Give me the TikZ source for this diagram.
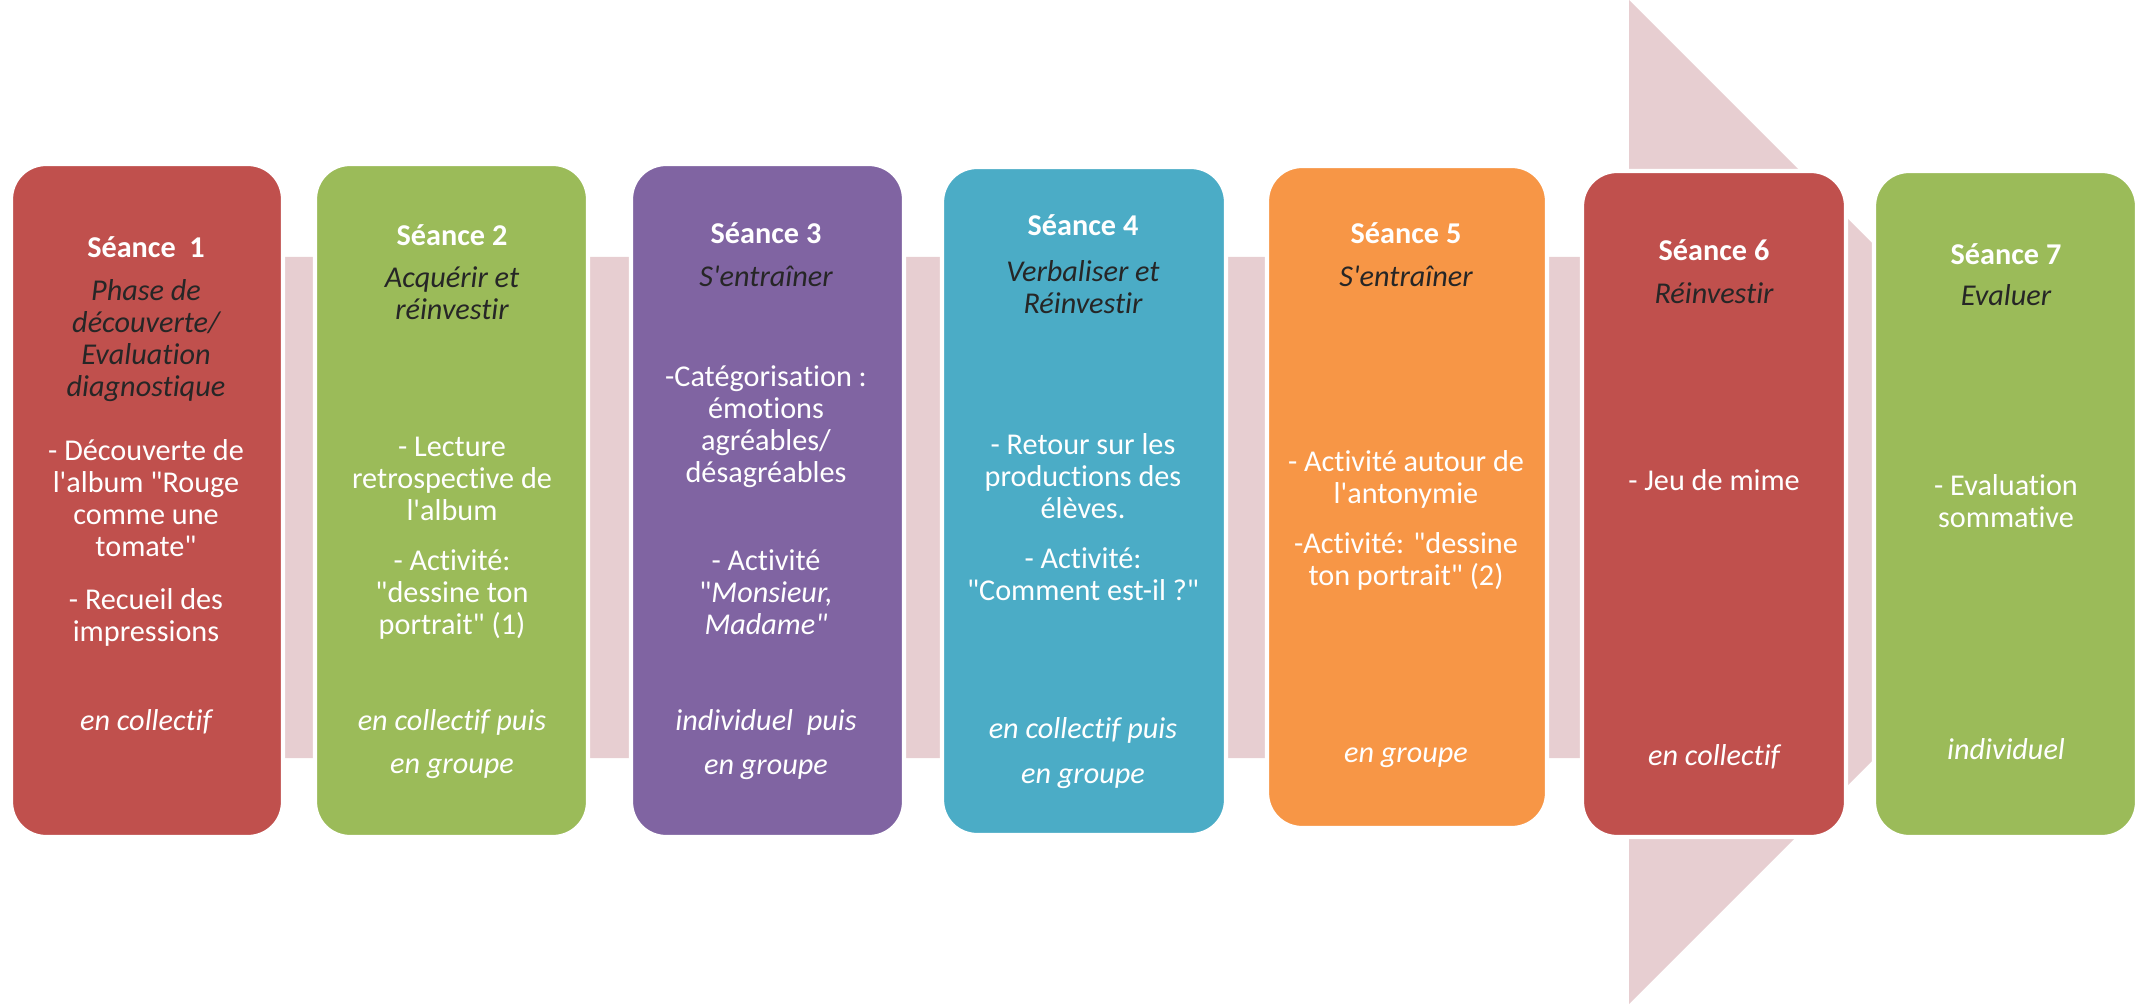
\documentclass[tikz,border=0pt]{standalone}
\usepackage{fontspec}
\setmainfont{Carlito}[Ligatures={TeXOff,NoCommon}]
\definecolor{sred}{RGB}{192,80,77}
\definecolor{sgreen}{RGB}{155,187,89}
\definecolor{spurple}{RGB}{128,100,162}
\definecolor{sblue}{RGB}{75,172,198}
\definecolor{sorange}{RGB}{247,150,70}
\definecolor{spink}{RGB}{231,206,209}
\newcommand{\apos}{\textquotesingle}

\begin{document}
\begin{tikzpicture}[
  seance/.style={draw=white,line width=1.2pt,rounded corners=0.35cm,minimum width=2.72cm,minimum height=6.73cm},
  titre/.style={font=\fontsize{8.6}{9.1}\selectfont\bfseries,text=white,inner sep=0pt},
  phase/.style={font=\fontsize{8.6}{9.1}\selectfont\itshape,text=black!85,align=center,inner sep=0pt},
  corps/.style={font=\fontsize{8.6}{9.1}\selectfont,text=white,align=center,inner sep=0pt},
  mode/.style={font=\fontsize{8.6}{9.1}\selectfont\itshape,text=white,align=center,inner sep=0pt}]
  \useasboundingbox (0,0) rectangle (21.39,10.04);
  % Background arrow
  \fill[spink] (0.3,7.47) -- (16.29,7.47) -- (16.29,10.04) -- (21.31,5.02) -- (16.29,0) -- (16.29,2.46) -- (0.3,2.46) -- cycle;
  % Session boxes
  \node[seance,fill=sred] (s1) at (1.47,5.035) {};
  \node[seance,fill=sgreen,minimum width=2.73cm] (s2) at (4.515,5.035) {};
  \node[seance,fill=spurple,minimum width=2.73cm] (s3) at (7.675,5.035) {};
  \node[seance,fill=sblue,minimum width=2.84cm,minimum height=6.68cm] (s4) at (10.84,5.03) {};
  \node[seance,fill=sorange,minimum width=2.80cm,minimum height=6.62cm] (s5) at (14.07,5.07) {};
  \node[seance,fill=sred,minimum width=2.64cm,minimum height=6.66cm] (s6) at (17.14,5.00) {};
  \node[seance,fill=sgreen,minimum width=2.63cm,minimum height=6.66cm] (s7) at (20.055,5.00) {};
  % Titles
  \node[titre] (t1) at (1.46,7.57) {Séance\ \ 1};
  \node[titre] (t2) at (4.52,7.69) {Séance 2};
  \node[titre] (t3) at (7.66,7.71) {Séance 3};
  \node[titre] (t4) at (10.83,7.79) {Séance 4};
  \node[titre] (t5) at (14.06,7.71) {Séance 5};
  \node[titre] (t6) at (17.14,7.54) {Séance 6};
  \node[titre] (t7) at (20.06,7.50) {Séance 7};
  % Phases
  \node[phase] (p1) at (1.46,6.635) {Phase de\\découverte/\\Evaluation\\diagnostique};
  \node[phase] (p2) at (4.52,7.105) {Acquérir et\\réinvestir};
  \node[phase] (p3) at (7.66,7.28) {S\apos entraîner};
  \node[phase] (p4) at (10.83,7.17) {Verbaliser et\\Réinvestir};
  \node[phase] (p5) at (14.06,7.28) {S\apos entraîner};
  \node[phase] (p6) at (17.14,7.11) {Réinvestir};
  \node[phase] (p7) at (20.06,7.09) {Evaluer};
  % Activities
  \node[corps] (b1) at (1.46,4.61) {- Découverte de\\l\apos album "Rouge\\comme une\\tomate"\\[6pt]- Recueil des\\impressions};
  \node[corps] (b2) at (4.52,4.66) {- Lecture\\retrospective de\\l\apos album\\[5pt]- Activité:\\"dessine ton\\portrait" (1)};
  \node[corps] (b3) at (7.66,5.04) {-Catégorisation :\\émotions\\agréables/\\désagréables\\[16pt]- Activité\\"\textit{Monsieur,}\\\textit{Madame"}};
  \node[corps] (b4) at (10.83,4.87) {- Retour sur les\\productions des\\élèves.\\[5pt]- Activité:\\"Comment est-il ?"};
  \node[corps] (b5) at (14.06,4.835) {- Activité autour de\\l\apos antonymie\\[5pt]-Activité: "dessine\\ton portrait" (2)};
  \node[corps] (b6) at (17.14,5.24) {- Jeu de mime};
  \node[corps] (b7) at (20.06,5.03) {- Evaluation\\sommative};
  % Working mode
  \node[mode] (m1) at (1.46,2.82) {en collectif};
  \node[mode] (m2) at (4.52,2.60) {en collectif puis\\[3pt]en groupe};
  \node[mode] (m3) at (7.66,2.595) {individuel\ \ puis\\[3.5pt]en groupe};
  \node[mode] (m4) at (10.83,2.51) {en collectif puis\\[3.5pt]en groupe};
  \node[mode] (m5) at (14.06,2.46) {en groupe};
  \node[mode] (m6) at (17.14,2.47) {en collectif};
  \node[mode] (m7) at (20.06,2.55) {individuel};
\end{tikzpicture}
\end{document}
